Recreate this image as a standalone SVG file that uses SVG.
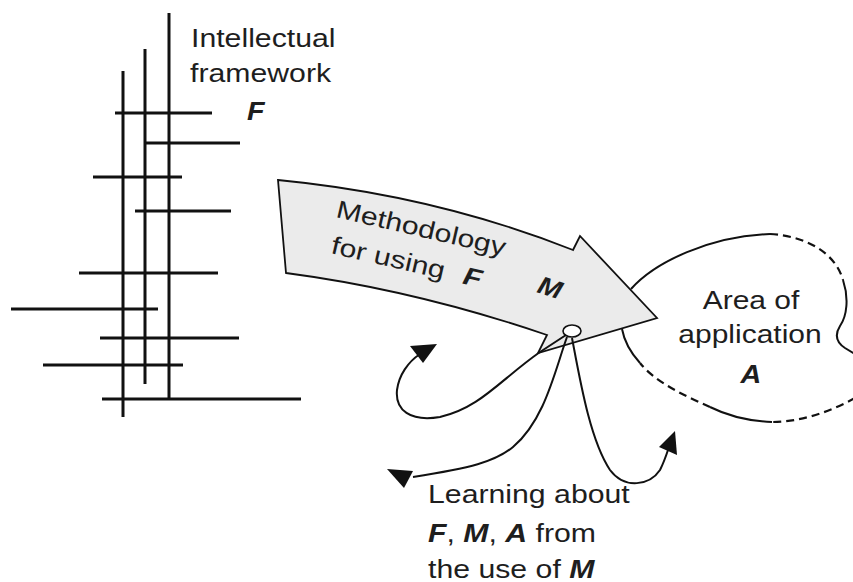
<svg xmlns="http://www.w3.org/2000/svg" width="853" height="582" viewBox="0 0 853 582">
<style>
.g line{stroke:#111;stroke-width:3}
.t{font-family:"Liberation Sans",Arial,sans-serif;font-size:25px;fill:#1e1e1e}
.bi{font-weight:bold;font-style:italic}
.c{fill:none;stroke:#111;stroke-width:2}
.d{fill:none;stroke:#111;stroke-width:2.2;stroke-dasharray:8 5}
.ah{fill:#111}
</style>
<rect width="853" height="582" fill="#ffffff"/>
<g id="framework">
 <g class="g">
  <line x1="123" y1="71" x2="123" y2="417"/>
  <line x1="145" y1="49" x2="145" y2="384"/>
  <line x1="169" y1="13" x2="169" y2="399"/>
  <line x1="115" y1="113" x2="212" y2="113"/>
  <line x1="146" y1="143" x2="240" y2="143"/>
  <line x1="93" y1="177" x2="182" y2="177"/>
  <line x1="135" y1="211" x2="231" y2="211"/>
  <line x1="79" y1="273" x2="218" y2="273"/>
  <line x1="11" y1="309" x2="158" y2="309"/>
  <line x1="100" y1="338" x2="239" y2="338"/>
  <line x1="43" y1="365" x2="183" y2="365"/>
  <line x1="102" y1="399" x2="301" y2="399"/>
 </g>
 <text class="t" transform="translate(191,47) scale(1.21,1)">Intellectual</text>
 <text class="t" transform="translate(190,82) scale(1.21,1)">framework</text>
 <text class="t bi" transform="translate(247,120) scale(1.15,1)">F</text>
</g>
<g id="methodology">
 <path d="M278,180 Q434,195 573,250 L580,236 L657,318 L538,353 L547,335 Q415,290 286,273 Z" fill="#ebebeb" stroke="#111" stroke-width="1.8" stroke-linejoin="miter"/>
 <text class="t" transform="translate(335,217) rotate(13) scale(1.21,1)">Methodology</text>
 <text class="t" transform="translate(330,253) rotate(13) scale(1.21,1)">for using<tspan class="bi" dx="16">F</tspan></text>
 <text class="t bi" transform="translate(536,292) rotate(18) scale(1.15,1)">M</text>
 <ellipse cx="572" cy="331" rx="9" ry="6" fill="#ffffff" stroke="#111" stroke-width="1.6"/>
</g>
<g id="area">
 <path class="c" d="M631,289 C655,262 710,236 770,234"/>
 <path class="d" d="M770,234 C805,236 835,252 843,280"/>
 <path class="c" d="M843,280 C849,298 847,316 840,326 C835,334 836,342 845,348 L855,354"/>
 <path class="d" d="M855,398 C830,412 800,422 772,422"/>
 <path class="c" d="M772,422 C748,421 728,416 710,407"/>
 <path class="d" d="M710,407 C685,396 655,382 640,363"/>
 <path class="c" d="M640,363 C630,352 624,340 622,329"/>
 <text class="t" text-anchor="middle" transform="translate(751,309) scale(1.2,1)">Area of</text>
 <text class="t" text-anchor="middle" transform="translate(750,343) scale(1.2,1)">application</text>
 <text class="t bi" text-anchor="middle" transform="translate(751,383) scale(1.15,1)">A</text>
</g>
<g id="connectors">
 <path class="c" d="M566,335 L540,352 C500,380 480,408 440,417 C410,422 395,410 397,390 C399,375 408,362 420,354"/>
 <polygon class="ah" points="410,346 437,344 423,363"/>
 <path class="c" d="M567,337 C555,370 545,420 513,447 C495,462 470,468 413,477"/>
 <polygon class="ah" points="387,469 413,471 404,488"/>
 <path class="c" d="M572,338 C580,380 590,440 610,470 C625,490 650,485 660,470 C664,462 666,456 668,450"/>
 <polygon class="ah" points="675,431 659,447 677,455"/>
</g>
<g id="learning">
 <text class="t" transform="translate(428,503) scale(1.21,1)">Learning about</text>
 <text class="t" transform="translate(428,542) scale(1.21,1)"><tspan class="bi">F</tspan>, <tspan class="bi">M</tspan>, <tspan class="bi">A</tspan> from</text>
 <text class="t" transform="translate(428,578) scale(1.21,1)">the use of <tspan class="bi">M</tspan></text>
</g>
</svg>
